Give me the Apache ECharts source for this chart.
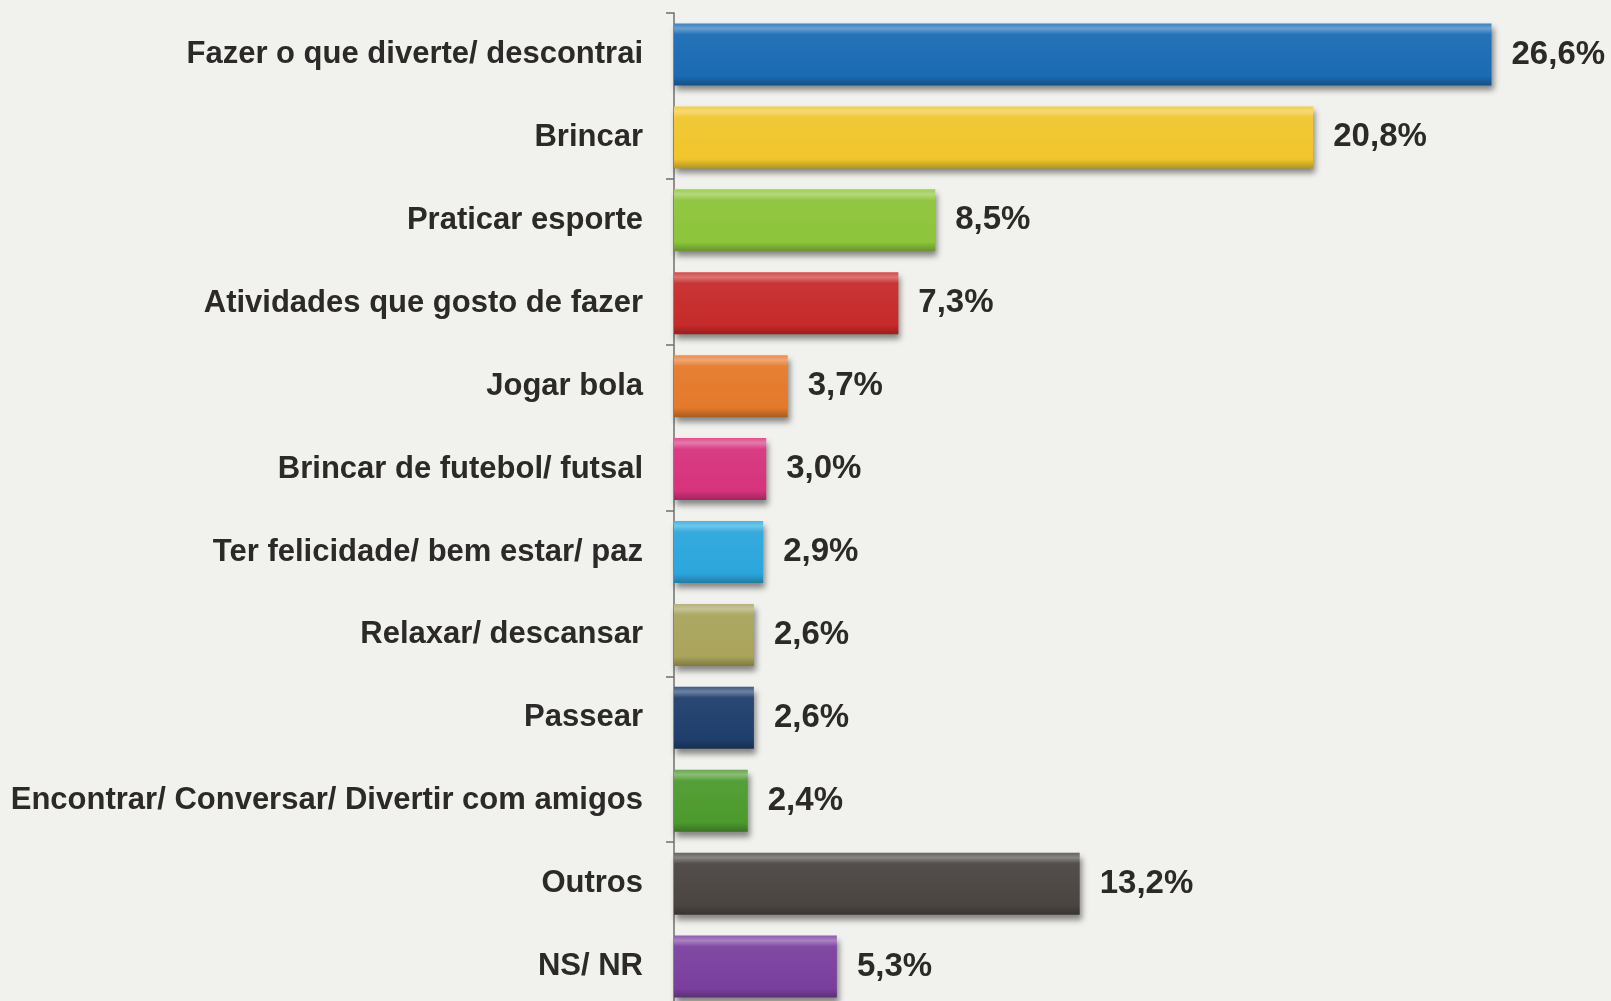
<!DOCTYPE html>
<html>
<head>
<meta charset="utf-8">
<script src="https://cdn.jsdelivr.net/npm/echarts@6/dist/echarts.min.js"></script>
<style>
html,body{margin:0;padding:0;background:#f1f1ee;overflow:hidden;}
#c{width:1611px;height:1020px;}
</style>
</head>
<body>
<div id="c"></div>
<script>
const categories = [
  "Fazer o que diverte/ descontrai",
  "Brincar",
  "Praticar esporte",
  "Atividades que gosto de fazer",
  "Jogar bola",
  "Brincar de futebol/ futsal",
  "Ter felicidade/ bem estar/ paz",
  "Relaxar/ descansar",
  "Passear",
  "Encontrar/ Conversar/ Divertir com amigos",
  "Outros",
  "NS/ NR"
];
const values = [26.6, 20.8, 8.5, 7.3, 3.7, 3.0, 2.9, 2.6, 2.6, 2.4, 13.2, 5.3];
const colors = ["#1a6bb3", "#f0c52c", "#8cc43a", "#c62a2a", "#e4792a", "#d6337c",
                "#2ba6dc", "#a9a35c", "#1f3e6c", "#4c9a2e", "#4a4541", "#7a3f9e"];

function shade(hex, f) {
  const n = parseInt(hex.slice(1), 16);
  let r = (n >> 16) & 255, g = (n >> 8) & 255, b = n & 255;
  if (f >= 0) { r += (255 - r) * f; g += (255 - g) * f; b += (255 - b) * f; }
  else { r *= 1 + f; g *= 1 + f; b *= 1 + f; }
  return "rgb(" + Math.round(r) + "," + Math.round(g) + "," + Math.round(b) + ")";
}

const chart = echarts.init(document.getElementById('c'));
const data = values.map((v, i) => ({
  value: v,
  itemStyle: {
    color: {
      type: 'linear', x: 0, y: 0, x2: 0, y2: 1,
      colorStops: [
        { offset: 0, color: shade(colors[i], 0.15) },
        { offset: 0.08, color: shade(colors[i], 0.35) },
        { offset: 0.18, color: shade(colors[i], 0.05) },
        { offset: 0.85, color: colors[i] },
        { offset: 1, color: shade(colors[i], -0.25) }
      ]
    }
  }
}));

chart.setOption({
  backgroundColor: '#f1f1ee',
  animation: false,
  grid: { left: 674, right: 15, top: 13, height: 995, containLabel: false },
  xAxis: {
    type: 'value', min: 0, max: 30,
    show: false
  },
  yAxis: {
    type: 'category',
    data: categories,
    inverse: true,
    axisLine: { show: true, lineStyle: { color: '#6f6f6f', width: 1.5 } },
    axisTick: { show: true, interval: 1, length: 8, lineStyle: { color: '#6f6f6f', width: 1.5 } },
    axisLabel: {
      margin: 31,
      fontFamily: 'Liberation Sans, Arial, sans-serif',
      fontWeight: 'bold',
      fontSize: 31,
      color: '#2b2a28'
    }
  },
  series: [{
    type: 'bar',
    data: data,
    barWidth: 62,
    itemStyle: {
      shadowColor: 'rgba(0,0,0,0.45)',
      shadowBlur: 6,
      shadowOffsetX: 2,
      shadowOffsetY: 5
    },
    label: {
      show: true,
      position: 'right',
      distance: 20,
      fontFamily: 'Liberation Sans, Arial, sans-serif',
      fontWeight: 'bold',
      fontSize: 33,
      color: '#2b2a28',
      formatter: p => p.value.toFixed(1).replace('.', ',') + '%'
    }
  }]
});
</script>
</body>
</html>
